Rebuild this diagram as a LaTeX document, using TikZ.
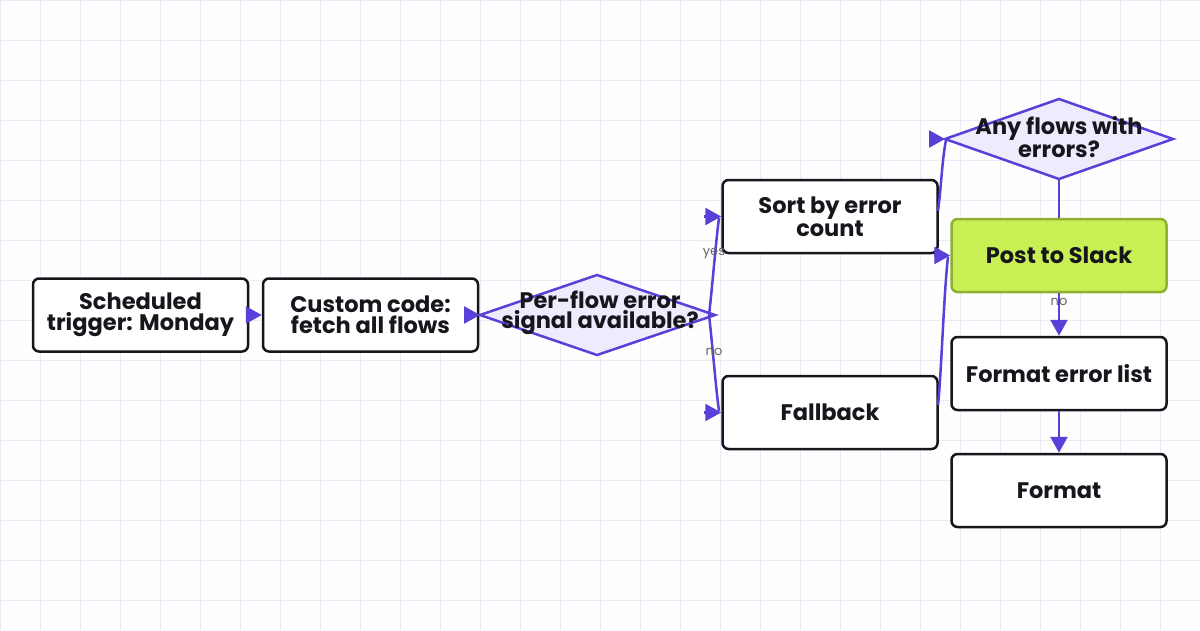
\documentclass[tikz,border=0pt]{standalone}
\usepackage{fontspec}
\setmainfont{Poppins}
\usetikzlibrary{shapes.geometric,arrows.meta}
\definecolor{grid}{HTML}{ECEBF5}
\definecolor{edge}{HTML}{5B3FD9}
\definecolor{dfill}{HTML}{EFEBFC}
\definecolor{gfill}{HTML}{C8F055}
\definecolor{gline}{HTML}{8FB030}
\definecolor{ink}{HTML}{16161C}
\begin{document}
\begin{tikzpicture}[x=1pt,y=-1pt,
  box/.style={draw=ink,line width=2.5pt,rounded corners=6pt,fill=white,minimum width=215pt,minimum height=73pt,align=center,font=\fontsize{22.5}{20.5}\selectfont\bfseries,text=ink},
  lbl/.style={align=center,font=\fontsize{22.5}{20.5}\selectfont\bfseries,text=ink},
  ln/.style={draw=edge,line width=2.5pt},
  e/.style={ln,-{Triangle[length=16pt,width=17pt]}},
  lab/.style={font=\fontsize{13}{13}\selectfont,text=gray!80!black}]
\fill[white!97!grid] (0,0) rectangle (1200,630);
\useasboundingbox (0,0) rectangle (1200,630);
\foreach \i in {0,40,...,1200} \draw[grid,line width=1pt] (\i,0) -- (\i,630);
\foreach \j in {0,40,...,600} \draw[grid,line width=1pt] (0,\j) -- (1200,\j);

\node[box] (s) at (140.5,315) {Scheduled\\trigger: Monday};
\node[box] (c) at (370.5,315) {Custom code:\\fetch all flows};
\node[box] (so) at (830,216.5) {Sort by error\\count};
\node[box] (fb) at (830,412.5) {Fallback};
\node[box,fill=gfill,draw=gline] (p) at (1059,255.5) {Post to Slack};
\node[box] (fl) at (1059,373.5) {Format error list};
\node[box] (f) at (1059,490.5) {Format};
\path (597,275) coordinate (d1t) (480,315) coordinate (d1l) (715,315) coordinate (d1r) (597,355) coordinate (d1b);
\draw[ln,fill=dfill] (d1t)--(d1r)--(d1b)--(d1l)--cycle;
\node[lbl] (d) at (600,313) {Per-flow error\\signal available?};
\path (1059,99) coordinate (d2t) (945,139) coordinate (d2l) (1173,139) coordinate (d2r) (1059,179) coordinate (d2b);
\draw[ln,fill=dfill] (d2t)--(d2r)--(d2b)--(d2l)--cycle;
\node[lbl] (a) at (1059,137) {Any flows with\\errors?};

\coordinate (y1) at (704,216.5);
\coordinate (n1) at (704,412.5);
\coordinate (a1) at (932,139);
\coordinate (b1) at (934,255.5);
\coordinate (dt) at (709,315);
\coordinate (so1) at (938,211);
\coordinate (fb1) at (938,405);

\draw[e] (s) -- (c);
\draw[e] (c) -- (d1l);
\draw[ln] (dt) .. controls (712,290) and (716,240) .. (719,218);
\draw[e] (y1) -- (so.west);
\draw[ln] (dt) .. controls (712,340) and (716,390) .. (719,411);
\draw[e] (n1) -- (fb.west);
\node[lab] at (714,254) {yes};
\node[lab] at (714,352) {no};
\draw[ln] (so1) .. controls (941,190) and (942,160) .. (946,140);
\draw[e] (a1) -- (d2l);
\draw[ln] (fb1) .. controls (941,380) and (944,290) .. (948,257);
\draw[e] (b1) -- (p.west);
\draw[ln] (d2b) -- (p.north);
\draw[e] (p) -- (fl);
\node[lab] at (1059,302) {no};
\draw[e] (fl) -- (f);
\end{tikzpicture}
\end{document}
